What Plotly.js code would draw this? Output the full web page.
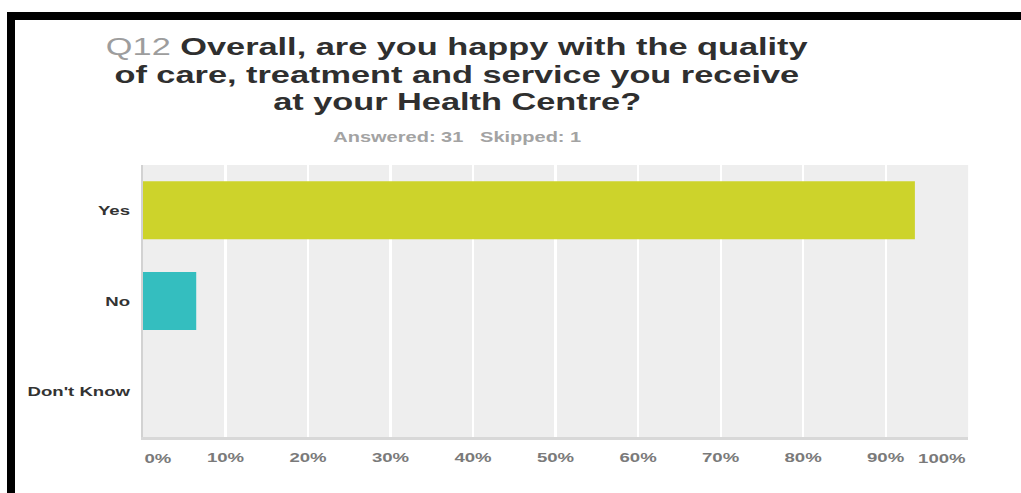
<!DOCTYPE html>
<html>
<head>
<meta charset="utf-8">
<script src="https://cdn.plot.ly/plotly-3.0.1.min.js"></script>
<style>
  html, body { margin:0; padding:0; background:#fff; overflow:hidden; }
  #wrap { position:relative; width:1021px; height:493px; overflow:hidden; }
  #chart { position:absolute; left:0; top:0; width:714px; height:493px; transform-origin:0 0; }
  .frame { position:absolute; background:#000; z-index:5; }
</style>
</head>
<body>
<div id="wrap">
  <div id="chart"></div>
  <div class="frame" style="left:7px;top:12px;width:1014px;height:8px;"></div>
  <div class="frame" style="left:7px;top:12px;width:8px;height:481px;"></div>
</div>
<script>
// ---- data ----
const categories = ['Yes', 'No', "Don't Know"];
const percentages = [93.55, 6.45, 0];
const xTickValues = [10, 20, 30, 40, 50, 60, 70, 80, 90];
const xTickLabels = ['10%', '20%', '30%', '40%', '50%', '60%', '70%', '80%', '90%'];
const edgeTickValues = [0, 100];
const edgeTickLabels = ['0%', '100%'];
const titleLines = [
  '<span style="color:#9d9d9d;font-weight:normal">Q12</span> <b>Overall, are you happy with the quality</b>',
  '<b>of care, treatment and service you receive</b>',
  '<b>at your Health Centre?</b>'
];
const subtitleText = '<b>Answered: 31\u00a0\u00a0 Skipped: 1</b>';

// ---- styles ----
const barColors = ['#cdd32b', '#34bebf', '#9e9e9e'];
const FONT = 'Liberation Sans, Arial, Helvetica, sans-serif';
const SX = 1.43; // horizontal stretch of the reference picture

const titleY = [1.434, 1.333, 1.232];
const titleX = 0.3806;

const annotations = titleLines.map((t, i) => ({
  text: t, xref: 'paper', yref: 'paper', x: titleX, y: titleY[i],
  xanchor: 'center', yanchor: 'middle', showarrow: false,
  font: {family: FONT, size: 24, color: '#2f2f2f'}, borderpad: 0
}));
annotations.push({
  text: subtitleText, xref: 'paper', yref: 'paper', x: titleX, y: 1.103,
  xanchor: 'center', yanchor: 'middle', showarrow: false,
  font: {family: FONT, size: 14, color: '#a3a3a3'}, borderpad: 0
});
edgeTickValues.forEach((v, i) => {
  annotations.push({
    text: '<b>' + edgeTickLabels[i] + '</b>', xref: 'x', yref: 'paper', x: v, y: -0.0805,
    xanchor: i === 0 ? 'left' : 'right', yanchor: 'middle', showarrow: false,
    font: {family: FONT, size: 13, color: '#7a7a7a'}, borderpad: 0
  });
});

const trace = {
  type: 'bar', orientation: 'h',
  x: percentages, y: categories,
  marker: {color: barColors, line: {width: 0}},
  hoverinfo: 'skip'
};

const layout = {
  width: 714, height: 493,
  margin: {l: 100, r: 37, t: 165, b: 56, pad: 0},
  paper_bgcolor: 'rgba(0,0,0,0)',
  plot_bgcolor: '#eeeeee',
  bargap: 0.36,
  showlegend: false,
  xaxis: {
    range: [0, 100], tickmode: 'array', tickvals: xTickValues, ticktext: xTickLabels,
    showgrid: true, gridcolor: '#ffffff', gridwidth: 1.5,
    zeroline: false, showline: true, linecolor: '#d8d8d8', linewidth: 2.5,
    ticks: 'outside', ticklen: 7, tickcolor: 'rgba(0,0,0,0)',
    tickfont: {family: FONT, size: 13, color: '#7a7a7a', weight: 700},
    fixedrange: true
  },
  yaxis: {
    type: 'category', categoryorder: 'array', categoryarray: categories,
    autorange: 'reversed',
    showgrid: false, zeroline: false,
    showline: true, linecolor: '#d2d2d2', linewidth: 1.5,
    ticks: 'outside', ticklen: 5, tickcolor: 'rgba(0,0,0,0)',
    tickfont: {family: FONT, size: 13, color: '#333333', weight: 700},
    fixedrange: true
  },
  annotations: annotations
};

Plotly.newPlot('chart', [trace], layout, {displayModeBar: false, staticPlot: true}).then(() => {
  document.getElementById('chart').style.transform = 'scaleX(' + SX + ')';
});
</script>
</body>
</html>
